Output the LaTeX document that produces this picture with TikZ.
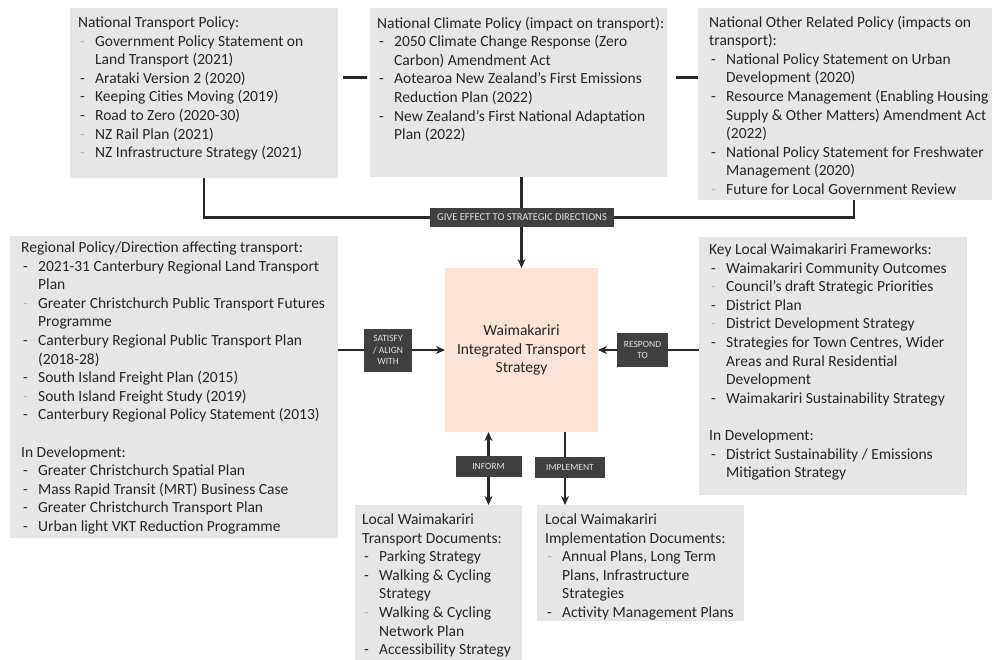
\documentclass[tikz,border=0pt]{standalone}
\usepackage{fontspec}
\setmainfont{Carlito}
\usetikzlibrary{arrows.meta,backgrounds,calc}
\definecolor{panel}{RGB}{230,230,230}
\definecolor{peach}{RGB}{251,228,213}
\definecolor{txtc}{RGB}{38,38,38}
\definecolor{lab}{RGB}{64,64,64}
\definecolor{linec}{RGB}{40,40,40}
\definecolor{faint}{RGB}{185,185,185}
\newcommand{\itm}{\makebox[17pt][l]{\hspace{2pt}-}}
\newcommand{\fitm}{\makebox[17pt][l]{\hspace{2pt}\textcolor{faint}{-}}}
\newcommand{\cnt}{\hspace*{17pt}}
\tikzset{
  panelbox/.style={fill=panel, anchor=north west, inner sep=0pt, outer sep=0pt, draw=none},
  txt/.style={anchor=north west, inner sep=0pt, align=left, font=\fontsize{15.5pt}{18.6pt}\selectfont, text=txtc},
  lbl/.style={fill=lab, text=white!88!black, inner sep=0pt, outer sep=0pt, align=center, font=\fontsize{9.5pt}{11.5pt}\selectfont},
  conn/.style={draw=linec, line width=2.4pt},
  arr/.style={conn, -{Stealth[length=9pt,width=8pt]}},
  darr/.style={conn, {Stealth[length=9pt,width=8pt]}-{Stealth[length=9pt,width=8pt]}}
}
\begin{document}
\begin{tikzpicture}[x=1pt,y=-1pt]
\useasboundingbox (0,0) rectangle (992,660);

% top panels
\node[panelbox, minimum width=268pt, minimum height=170pt] (b1) at (70,8) {};
\node[txt] (t1) at (78,16.5) {National Transport Policy:\\
\fitm Government Policy Statement on\\
\cnt Land Transport (2021)\\
\itm Arataki Version 2 (2020)\\
\itm Keeping Cities Moving (2019)\\
\itm Road to Zero (2020-30)\\
\fitm NZ Rail Plan (2021)\\
\fitm NZ Infrastructure Strategy (2021)};

\node[panelbox, minimum width=297pt, minimum height=169pt] (b2) at (370,8) {};
\node[txt] (t2) at (377,16.5) {National Climate Policy (impact on transport):\\
\itm 2050 Climate Change Response (Zero\\
\cnt Carbon) Amendment Act\\
\itm Aotearoa New Zealand's First Emissions\\
\cnt Reduction Plan (2022)\\
\itm New Zealand's First National Adaptation\\
\cnt Plan (2022)};

\node[panelbox, minimum width=294pt, minimum height=192pt] (b3) at (698,8) {};
\node[txt] (t3) at (709,15.5) {National Other Related Policy (impacts on\\
transport):\\
\itm National Policy Statement on Urban\\
\cnt Development (2020)\\
\itm Resource Management (Enabling Housing\\
\cnt Supply \& Other Matters) Amendment Act\\
\cnt (2022)\\
\itm National Policy Statement for Freshwater\\
\cnt Management (2020)\\
\fitm Future for Local Government Review};

% left panel
\node[panelbox, minimum width=328pt, minimum height=302pt] (lbox) at (10,236) {};
\node[txt] (tl) at (21,241.5) {Regional Policy/Direction affecting transport:\\
\itm 2021-31 Canterbury Regional Land Transport\\
\cnt Plan\\
\fitm Greater Christchurch Public Transport Futures\\
\cnt Programme\\
\itm Canterbury Regional Public Transport Plan\\
\cnt (2018-28)\\
\itm South Island Freight Plan (2015)\\
\fitm South Island Freight Study (2019)\\
\itm Canterbury Regional Policy Statement (2013)\\[18.6pt]
In Development:\\
\itm Greater Christchurch Spatial Plan\\
\itm Mass Rapid Transit (MRT) Business Case\\
\itm Greater Christchurch Transport Plan\\
\itm Urban light VKT Reduction Programme};

% right panel
\node[panelbox, minimum width=268pt, minimum height=258pt] (rbox) at (699,237) {};
\node[txt] (tr) at (709,243.5) {Key Local Waimakariri Frameworks:\\
\itm Waimakariri Community Outcomes\\
\fitm Council's draft Strategic Priorities\\
\itm District Plan\\
\fitm District Development Strategy\\
\itm Strategies for Town Centres, Wider\\
\cnt Areas and Rural Residential\\
\cnt Development\\
\itm Waimakariri Sustainability Strategy\\[18.6pt]
In Development:\\
\itm District Sustainability / Emissions\\
\cnt Mitigation Strategy};

% centre
\node[fill=peach, anchor=north west, inner sep=0pt, outer sep=0pt, minimum width=153pt, minimum height=164pt,
      align=center, font=\fontsize{15.5pt}{18.6pt}\selectfont, text=txtc] (ctr) at (445,268)
      {Waimakariri\\Integrated Transport\\Strategy};

% bottom panels
\node[panelbox, minimum width=167pt, minimum height=155pt] (tdoc) at (355,505) {};
\node[txt] (ttd) at (362,513.5) {Local Waimakariri\\
Transport Documents:\\
\itm Parking Strategy\\
\itm Walking \& Cycling\\
\cnt Strategy\\
\fitm Walking \& Cycling\\
\cnt Network Plan\\
\itm Accessibility Strategy};

\node[panelbox, minimum width=207pt, minimum height=116pt] (idoc) at (537,505) {};
\node[txt] (tid) at (545,513.5) {Local Waimakariri\\
Implementation Documents:\\
\fitm Annual Plans, Long Term\\
\cnt Plans, Infrastructure\\
\cnt Strategies\\
\itm Activity Management Plans};

% labels
\node[lbl, minimum width=184pt, minimum height=19pt, font=\fontsize{10.5pt}{12pt}\selectfont] (give) at (522,217.5) {GIVE EFFECT TO STRATEGIC DIRECTIONS};
\node[lbl, minimum width=48pt, minimum height=43pt] (sat) at (388,350) {SATISFY\\/ ALIGN\\WITH};
\node[lbl, minimum width=51pt, minimum height=34pt] (resp) at (642.5,350) {RESPOND\\TO};
\node[lbl, minimum width=66pt, minimum height=21pt] (inf) at (488.5,466.5) {INFORM};
\node[lbl, minimum width=70pt, minimum height=21pt] (imp) at (570,467.5) {IMPLEMENT};

\begin{pgfonlayer}{background}
\fill[white] (0,0) rectangle (992,660);
% top connectors
\draw[conn, line width=3pt, shorten <=5pt, shorten >=3pt] ($(b1.east)+(0,-15)$) -- ($(b1.east -| b2.west)+(0,-15)$);
\draw[conn, line width=3pt, shorten <=9pt] ($(b2.east)+(0,-14.5)$) -- ($(b2.east -| b3.west)+(0,-14.5)$);
\draw[conn] (b1.south) |- (give.west);
\draw[conn] ($(b3.south)+(9,0)$) |- (give.east);
\draw[arr] (b2.south -| ctr.north) -- (ctr.north);
% side connectors
\draw[conn] (lbox.east |- sat.west) -- (sat.west);
\draw[arr] (sat.east) -- (ctr.west |- sat.east);
\draw[conn] (rbox.west |- resp.east) -- (resp.east);
\draw[arr] (resp.west) -- (ctr.east |- resp.west);
% bottom connectors
\draw[darr] (ctr.south -| inf) -- (tdoc.north -| inf);
\draw[arr] ($(ctr.south -| imp)+(-5,0)$) -- ($(idoc.north -| imp)+(-5,0)$);
\end{pgfonlayer}
\end{tikzpicture}
\end{document}
